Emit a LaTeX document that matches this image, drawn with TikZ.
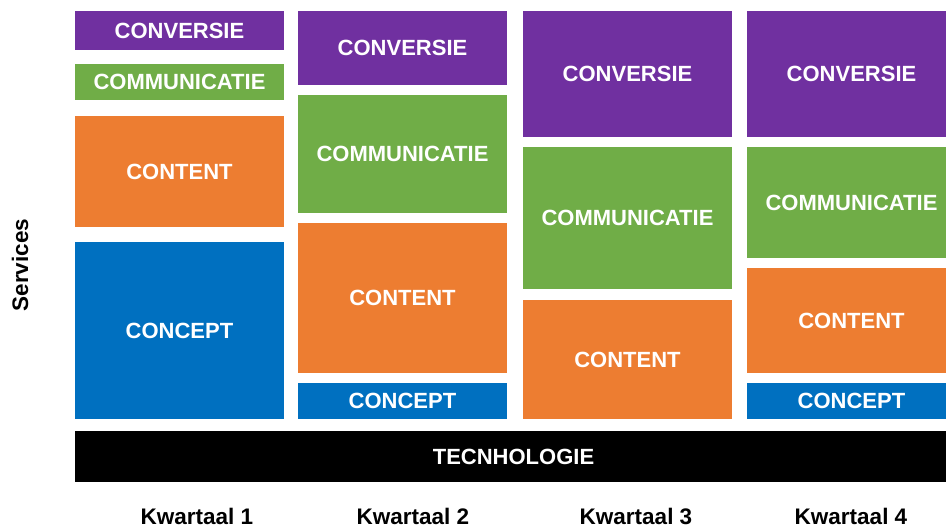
\documentclass[tikz,border=0pt]{standalone}
\usepackage{fontspec}
\setmainfont{Liberation Sans}
\definecolor{cpurple}{HTML}{7030A0}
\definecolor{cgreen}{HTML}{70AD47}
\definecolor{corange}{HTML}{ED7D31}
\definecolor{cblue}{HTML}{0070C0}
\tikzset{
  blk/.style={anchor=north west, inner sep=0pt, outer sep=0pt, text=white,
    font=\bfseries\fontsize{22}{26}\selectfont, minimum width=209pt},
  conv/.style={blk, fill=cpurple},
  comm/.style={blk, fill=cgreen},
  cont/.style={blk, fill=corange},
  conc/.style={blk, fill=cblue},
  qlabel/.style={font=\bfseries\fontsize{22.5}{27}\selectfont, text=black, inner sep=0pt}
}
\begin{document}
\begin{tikzpicture}[x=1pt,y=-1pt]
\clip (0,0) rectangle (946,529);
\useasboundingbox (0,0) rectangle (946,529);
% column 1
\node[conv, minimum height=39pt] (c1a) at (75,11) {CONVERSIE};
\node[comm, minimum height=36pt] (c1b) at (75,64) {COMMUNICATIE};
\node[cont, minimum height=111pt] (c1c) at (75,116) {CONTENT};
\node[conc, minimum height=177pt] (c1d) at (75,242) {CONCEPT};
% column 2
\node[conv, minimum height=74pt] (c2a) at (298,11) {CONVERSIE};
\node[comm, minimum height=118pt] (c2b) at (298,95) {COMMUNICATIE};
\node[cont, minimum height=150pt] (c2c) at (298,223) {CONTENT};
\node[conc, minimum height=36pt] (c2d) at (298,383) {CONCEPT};
% column 3
\node[conv, minimum height=126pt] (c3a) at (523,11) {CONVERSIE};
\node[comm, minimum height=142pt] (c3b) at (523,147) {COMMUNICATIE};
\node[cont, minimum height=119pt] (c3c) at (523,300) {CONTENT};
% column 4
\node[conv, minimum height=126pt] (c4a) at (747,11) {CONVERSIE};
\node[comm, minimum height=111pt] (c4b) at (747,147) {COMMUNICATIE};
\node[cont, minimum height=105pt] (c4c) at (747,268) {CONTENT};
\node[conc, minimum height=36pt] (c4d) at (747,383) {CONCEPT};
% technology bar
\node[blk, fill=black, minimum width=871pt, minimum height=51pt] (tech) at (75,431) {\hspace{6pt}TECNHOLOGIE};
% labels
\node[qlabel] (q1) at (197,516) {Kwartaal 1};
\node[qlabel] (q2) at (413,516) {Kwartaal 2};
\node[qlabel] (q3) at (636,516) {Kwartaal 3};
\node[qlabel] (q4) at (851,516) {Kwartaal 4};
\node[qlabel, rotate=90] (serv) at (20,265) {Services};
\end{tikzpicture}
\end{document}
